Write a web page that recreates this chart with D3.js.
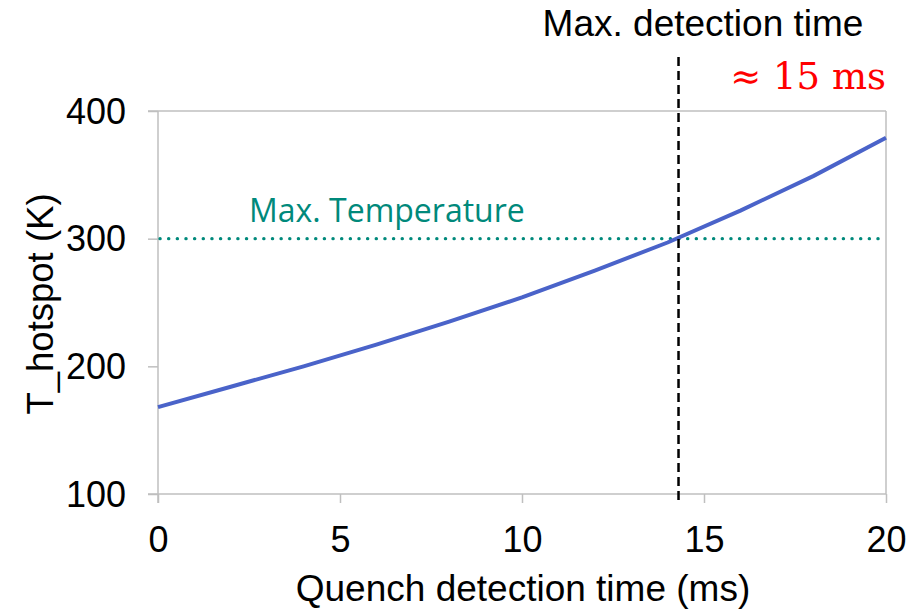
<!DOCTYPE html>
<html>
<head>
<meta charset="utf-8">
<script src="https://cdn.jsdelivr.net/npm/d3@7"></script>
<style>
  body { margin: 0; background: #fff; }
  svg { display: block; }
</style>
</head>
<body>
<svg id="chart" width="922" height="610"></svg>
<script>
// Data
const detectionTimes = [0, 2, 4, 6, 8, 10, 12, 14, 16, 18, 20];
const hotspotTemps   = [168, 184, 200, 217, 235, 254, 275, 297, 322, 349, 379];
const xTicks = [0, 5, 10, 15, 20];
const yTicks = [100, 200, 300, 400];
const maxTemperature = 300;
const maxDetectionTime = 14.3;

const svg = d3.select("#chart");
const margin = { left: 158, right: 922 - 886, top: 111, bottom: 610 - 494 };
const W = 922, H = 610;

const x = d3.scaleLinear().domain([0, 20]).range([margin.left, W - margin.right]);
const y = d3.scaleLinear().domain([100, 400]).range([H - margin.bottom, margin.top]);

const axisColor = "#bfbfbf";
const font = "'Liberation Sans', Arial, sans-serif";

// Frame (top and right)
svg.append("line").attr("x1", x(0) - 10).attr("x2", x(20)).attr("y1", y(400)).attr("y2", y(400))
  .attr("stroke", axisColor).attr("stroke-width", 1.5);
svg.append("line").attr("x1", x(20)).attr("x2", x(20)).attr("y1", y(400)).attr("y2", y(100))
  .attr("stroke", axisColor).attr("stroke-width", 1.5);

// X axis
const xAxis = svg.append("g").attr("transform", `translate(0,${y(100)})`)
  .call(d3.axisBottom(x).tickValues(xTicks).tickSize(9).tickPadding(23).tickSizeOuter(0));
xAxis.select(".domain").attr("stroke", axisColor).attr("stroke-width", 1.5)
  .attr("d", `M${x(0) - 10},0H${x(20)}`);
xAxis.selectAll(".tick line").attr("stroke", axisColor).attr("stroke-width", 1.5);
xAxis.selectAll(".tick text").attr("fill", "#000").style("font-family", font).style("font-size", "36px");

// Y axis
const yAxis = svg.append("g").attr("transform", `translate(${x(0)},0)`)
  .call(d3.axisLeft(y).tickValues(yTicks).tickSize(10).tickPadding(22).tickSizeOuter(0));
yAxis.select(".domain").attr("stroke", axisColor).attr("stroke-width", 1.5)
  .attr("d", `M0,${y(400)}V${y(100) + 9}`);
yAxis.selectAll(".tick line").attr("stroke", axisColor).attr("stroke-width", 1.5);
yAxis.selectAll(".tick text").attr("fill", "#000").style("font-family", font).style("font-size", "36px")
  .attr("dy", "0.34em");

// Axis titles
svg.append("text").attr("x", 523).attr("y", 601).attr("text-anchor", "middle")
  .style("font-family", font).style("font-size", "37px").attr("fill", "#000")
  .text("Quench detection time (ms)");
svg.append("text").attr("transform", `translate(53,304) rotate(-90)`).attr("text-anchor", "middle")
  .style("font-family", font).style("font-size", "36.5px").attr("fill", "#000")
  .text("T_hotspot (K)");

// Max temperature dotted line
svg.append("line").attr("x1", x(0) + 2).attr("x2", x(20)).attr("y1", y(maxTemperature)).attr("y2", y(maxTemperature))
  .attr("stroke", "#00897b").attr("stroke-width", 3.4).attr("stroke-linecap", "round")
  .attr("stroke-dasharray", "0.1 8.55");
svg.append("text").attr("x", 249).attr("y", 222)
  .style("font-family", "'Open Sans', sans-serif").style("font-size", "32px").attr("fill", "#00897b")
  .text("Max. Temperature");

// Curve
const line = d3.line().x((d, i) => x(detectionTimes[i])).y(d => y(d));
svg.append("path").datum(hotspotTemps).attr("d", line)
  .attr("fill", "none").attr("stroke", "#4a63c9").attr("stroke-width", 4).attr("stroke-linejoin", "round");

// Max detection time dashed line
svg.append("line").attr("x1", x(maxDetectionTime)).attr("x2", x(maxDetectionTime))
  .attr("y1", 57).attr("y2", y(100) + 9)
  .attr("stroke", "#000").attr("stroke-width", 2.5).attr("stroke-dasharray", "9 5");

svg.append("text").attr("x", 703).attr("y", 36).attr("text-anchor", "middle")
  .style("font-family", font).style("font-size", "37px").attr("fill", "#000")
  .text("Max. detection time");
svg.append("text").attr("x", 886).attr("y", 89).attr("text-anchor", "end")
  .style("font-family", "'DejaVu Serif', serif").style("font-size", "37px").attr("fill", "#ff0000")
  .text("≈ 15 ms");
</script>
</body>
</html>
